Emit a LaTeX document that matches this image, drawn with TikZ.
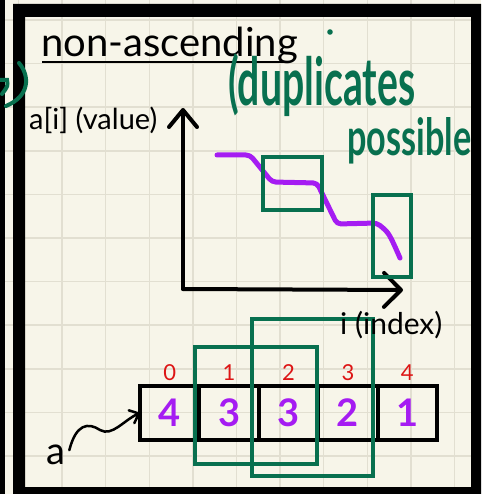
\documentclass[tikz,border=0pt]{standalone}
\usepackage{fontspec}
\setmainfont{Lato}
\usetikzlibrary{arrows.meta,calc}
\definecolor{paper}{HTML}{F7F5E9}
\definecolor{gridc}{HTML}{E2DFD1}
\definecolor{pengreen}{HTML}{08704F}
\definecolor{penpurple}{HTML}{A51CF2}
\definecolor{idxred}{HTML}{DD1515}
\tikzset{
  fs/.style={font=\fontsize{#1}{#1}\selectfont},
  gridline/.style={gridc,line width=1.5},
  axisline/.style={line width=4,line cap=round,line join=round},
  hlbox/.style={draw=pengreen,line width=4},
  cellbox/.style={draw=black,line width=4,minimum width=59.4,minimum height=54,inner sep=0,outer sep=0,text=penpurple,font=\fontsize{38}{38}\selectfont\bfseries},
  idx/.style={text=idxred,fs=22,inner sep=0},
  curve/.style={penpurple,line width=5,line cap=round,line join=round,rounded corners=4},
}
\begin{document}
\begin{tikzpicture}[x=1pt,y=-1pt]
\useasboundingbox (0,0) rectangle (481,494);
\fill[paper] (0,0) rectangle (481,494);
\foreach \i in {0,...,10} \draw[gridline] ({18.5+43.6*\i},0) -- ++(0,494);
\foreach \j in {0,...,11} \draw[gridline] (0,{20+43.6*\j}) -- ++(481,0);
% frame
\fill[black] (0,0) rectangle (5,494);
\fill[black,even odd rule] (13,4) rectangle (481,494) (25,17) rectangle (471,487);
% title
\node[anchor=base west,fs=40,inner sep=0] (title) at (41,57) {non-ascending};
\draw[line width=2] ($(title.base west)+(1,5)$) -- ++(243,0);
% axes
\coordinate (O) at (183,289);
\coordinate (ytip) at (183,108);
\coordinate (xtip) at (403,290);
\draw[axisline,-{Straight Barb[length=17,width=28,round]}] (O) -- (ytip);
\draw[axisline,-{Straight Barb[length=17,width=34,round]}] (O) -- (xtip);
\node[anchor=base west,fs=29,inner sep=0] (ylab) at (29,130) {a[i] (value)};
% purple curve
\draw[curve] (217,155) -- (250,155) -- (272,182) -- (317,183) -- (337,224) -- (377,223) [sharp corners] .. controls (389,233) .. (400,258);
% array
\foreach \v [count=\k from 0] in {4,3,3,2,1} {
  \node[cellbox] (c\k) at ({169.7+59.4*\k},413) {\v};
  \node[idx,anchor=base] (i\k) at ({169.7+59.4*\k},380) {\k};
}
% green boxes
\draw[hlbox] (263,157) rectangle (322,210);
\draw[hlbox] (373,195) rectangle (411,277);
\draw[hlbox] (195,347) rectangle (317,464);
\draw[hlbox] (252,319) rectangle (373,476);
\node[anchor=base west,fs=30,inner sep=0] (xlab) at (340,334) {i (index)};
% a pointer
\node[anchor=base west,fs=38,inner sep=0] (alab) at (46,464) {a};
\draw[line width=2.5,line cap=round,-{Straight Barb[length=8,width=14,round]}] ($(alab.north east)+(4,6)$) .. controls (76,424) and (88,422) .. (100,430) .. controls (112,437) and (124,420) .. (c0.west);
% green handwriting
\node[anchor=base west,inner sep=0,text=pengreen] (dup) at (228,106) {\resizebox{187pt}{52pt}{\fontsize{40}{40}\selectfont\bfseries (duplicates}};
\node[anchor=base west,inner sep=0,text=pengreen] (pos) at (347,156) {\resizebox{124pt}{38pt}{\fontsize{40}{40}\selectfont\bfseries possible}};
\fill[pengreen] (330,32) circle (2.8);
\draw[pengreen,line width=4,line cap=round] (19,63) .. controls (30,76) and (30,96) .. (6,106);
\draw[pengreen,line width=4,line cap=round] (0,80) -- (7,80) .. controls (8,86) .. (2,94);
\end{tikzpicture}
\end{document}
